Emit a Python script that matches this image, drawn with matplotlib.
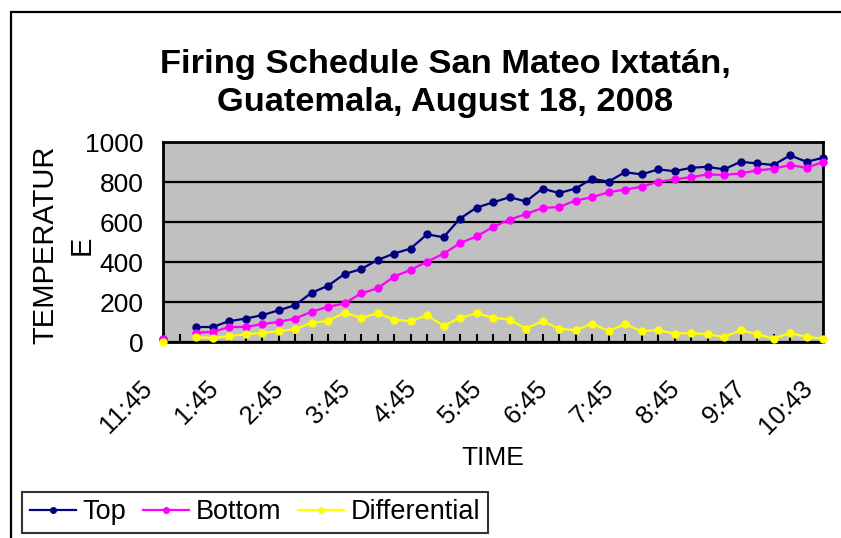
import numpy as np
import matplotlib.pyplot as plt
import matplotlib.transforms as mtransforms
from matplotlib.patches import Rectangle

plt.rcParams['font.family'] = ['Liberation Sans', 'DejaVu Sans']

nan = np.nan

# shown time labels, one every 4 readings
tick_labels = ["11:45", "1:45", "2:45", "3:45", "4:45", "5:45",
               "6:45", "7:45", "8:45", "9:47", "10:43"]
label_every = 4

top = [17, nan, 75, 75, 104, 117, 134, 158, 184, 246, 281, 340, 364, 410,
       442, 467, 538, 524, 617, 672, 698, 724, 703, 767, 745, 767, 816, 802,
       849, 838, 863, 854, 871, 876, 863, 901, 893, 885, 933, 901, 921]
bottom = [17, nan, 47, 50, 75, 75, 89, 101, 117, 151, 176, 193, 243, 268,
          327, 360, 402, 441, 494, 528, 575, 612, 640, 670, 675, 707, 724,
          749, 762, 776, 801, 813, 824, 838, 835, 843, 858, 866, 885, 871, 900]
differential = [0, nan, 25, 20, 29, 39, 45, 54, 64, 96, 106, 146, 121, 143,
                112, 104, 134, 81, 121, 143, 122, 112, 67, 104, 67, 59, 92, 55,
                89, 55, 59, 42, 45, 39, 25, 59, 39, 17, 45, 25, 17]

series = [("Top", top, "#000080"),
          ("Bottom", bottom, "#FF00FF"),
          ("Differential", differential, "#FFFF00")]

W, H = 841, 538
fig = plt.figure(figsize=(W / 100, H / 100), dpi=100)
ax = fig.add_axes([163 / W, 1 - 342 / H, (823 - 163) / W, (342 - 142) / H])
ax.set_facecolor("#C0C0C0")

x = np.arange(len(top))
for name, vals, col in series:
    ax.plot(x, vals, color=col, lw=1.6, marker="o", ms=5, label=name,
            clip_on=False, zorder=3)

ax.set_xlim(0, len(top) - 1)
ax.set_ylim(0, 1000)
ax.set_yticks(range(0, 1001, 200))
ax.yaxis.grid(True, color="black", lw=1.6)
ax.set_axisbelow(True)
for s in ax.spines.values():
    s.set_linewidth(2)
    s.set_color("black")

labels = [""] * len(top)
labels[::label_every] = tick_labels
ax.set_xticks(x)
ax.set_xticklabels(labels, rotation=45, ha="right", va="top",
                   rotation_mode="anchor")
ax.tick_params(axis="x", direction="in", length=6, width=1.5, pad=10,
               labelsize=18.5)
ax.tick_params(axis="y", length=0, pad=14, labelsize=19)
shift = mtransforms.ScaledTranslation(-0.23, -0.20, fig.dpi_scale_trans)
for lab in ax.get_xticklabels():
    lab.set_transform(lab.get_transform() + shift)

ax.set_xlabel("TIME", fontsize=19, va="center")
ax.xaxis.set_label_coords(0.5, (342 - 458) / 200)
ax.set_ylabel("TEMPERATUR\nE", fontsize=21, va="center", linespacing=1.35)
ax.yaxis.set_label_coords((63.5 - 163) / 660, (342 - 245) / 200)

fig.text(445 / W, 1 - 49 / H,
         "Firing Schedule San Mateo Ixtatán,\nGuatemala, August 18, 2008",
         fontsize=24.8, fontweight="bold", ha="center", va="top",
         linespacing=1.3)

# outer chart-area frame (only left and top edges fall inside the image)
fig.add_artist(Rectangle((11 / W, -0.2), 2, 1.2 - 12 / H, fill=False,
                         edgecolor="black", lw=1.6, transform=fig.transFigure))

leg = fig.legend(loc="lower left", bbox_to_anchor=(22 / W, 5 / H), ncol=3,
                 fontsize=19.5, frameon=True, fancybox=False, edgecolor="black",
                 borderaxespad=0, handlelength=1.7, handletextpad=0.26,
                 columnspacing=0.6, borderpad=0.28, markerscale=0.8)
leg.get_frame().set_linewidth(1.5)

fig.savefig("out.png", dpi=100)
